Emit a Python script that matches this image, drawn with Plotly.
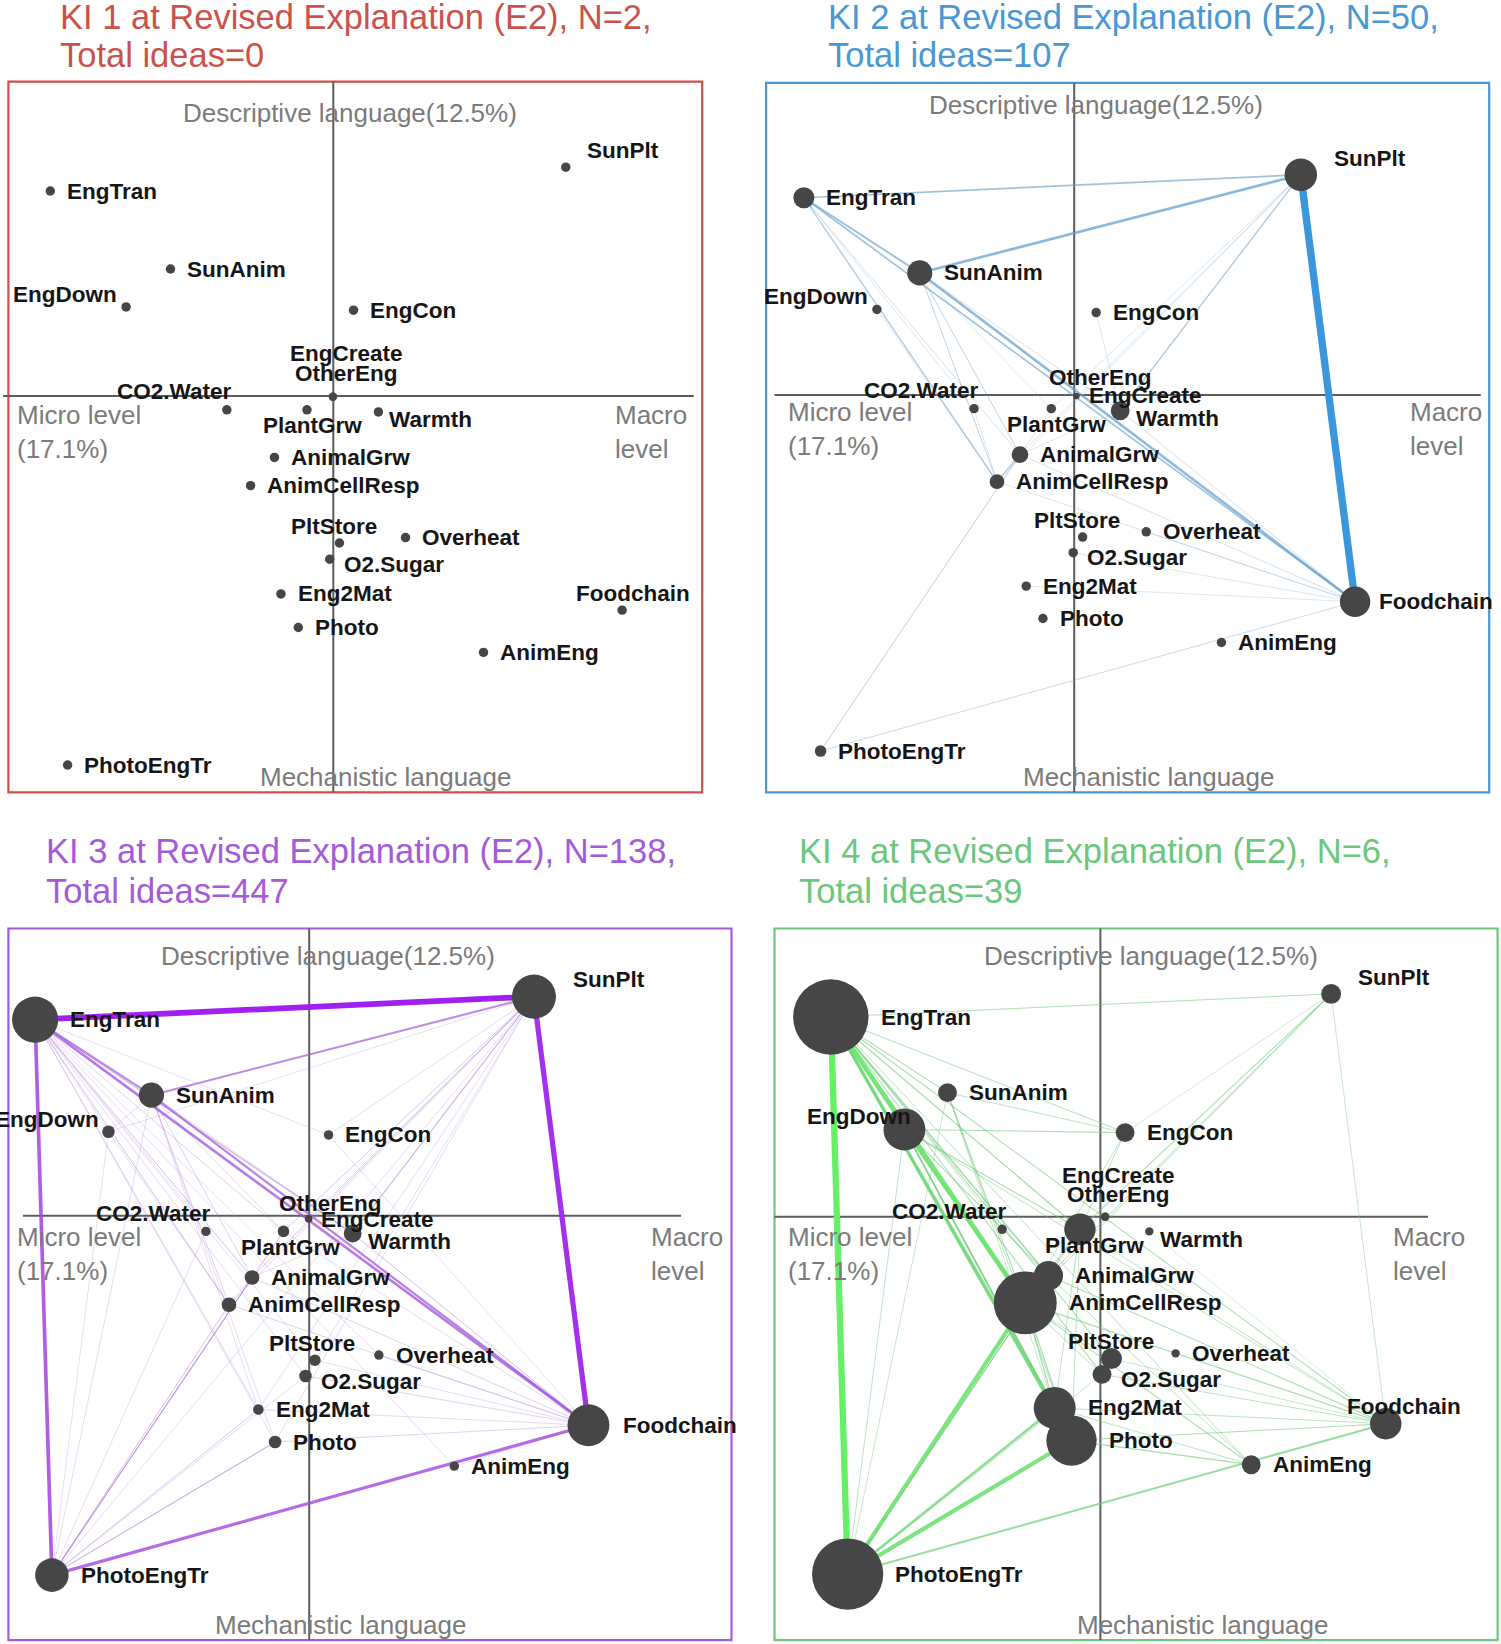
import plotly.graph_objects as go

FIG_W, FIG_H = 1501, 1644
K = 1.048  # reference-unit to output pixel factor

# ---------------- data ----------------
NODE_NAMES = ["SunPlt", "EngTran", "SunAnim", "EngDown", "EngCon", "EngCreate", "OtherEng",
              "CO2.Water", "PlantGrw", "Warmth", "AnimalGrw", "AnimCellResp", "PltStore",
              "Overheat", "O2.Sugar", "Eng2Mat", "Photo", "Foodchain", "AnimEng", "PhotoEngTr"]
NODE_X = [2.18, -2.58, -1.47, -1.88, 0.22, 0.03, 0.03, -0.95, -0.21, 0.45, -0.51, -0.73, 0.09,
          0.70, 0.00, -0.45, -0.29, 2.70, 1.42, -2.42]
NODE_Y = [2.12, 1.90, 1.18, 0.83, 0.80, 0.00, 0.00, -0.12, -0.12, -0.14, -0.56, -0.82, -1.35,
          -1.30, -1.50, -1.82, -2.13, -1.97, -2.36, -3.40]

TITLE_LINE1 = ["KI 1 at Revised Explanation (E2), N=2,", "KI 2 at Revised Explanation (E2), N=50,",
               "KI 3 at Revised Explanation (E2), N=138,", "KI 4 at Revised Explanation (E2), N=6,"]
TITLE_LINE2 = ["Total ideas=0", "Total ideas=107", "Total ideas=447", "Total ideas=39"]

LABEL_TOP = "Descriptive language(12.5%)"
LABEL_BOTTOM = "Mechanistic language"
LABEL_LEFT = "Micro level<br>(17.1%)"
LABEL_RIGHT = "Macro<br>level"

# node weights (relative idea frequency) per KI group
NODE_W_KI1 = {"EngCreate": -1, "OtherEng": -1}
NODE_W_KI2 = {"SunPlt": 22, "Foodchain": 20, "SunAnim": 15, "EngTran": 11, "Warmth": 9,
              "AnimalGrw": 7, "AnimCellResp": 5, "PhotoEngTr": 2, "EngCreate": -3, "OtherEng": -3}
NODE_W_KI3 = {"EngTran": 35, "SunPlt": 33, "Foodchain": 31, "PhotoEngTr": 23, "SunAnim": 15,
              "Warmth": 8, "AnimalGrw": 5, "AnimCellResp": 5, "Photo": 3, "O2.Sugar": 3,
              "PlantGrw": 2, "PltStore": 2, "EngDown": 3, "Eng2Mat": 1, "EngCreate": -2, "OtherEng": -2}
NODE_W_KI4 = {"EngTran": 63, "PhotoEngTr": 59, "AnimCellResp": 51, "Photo": 39, "Eng2Mat": 31,
              "EngDown": 31, "PlantGrw": 21, "AnimalGrw": 19, "Foodchain": 21, "PltStore": 11,
              "O2.Sugar": 9, "AnimEng": 9, "EngCon": 9, "SunAnim": 9, "SunPlt": 10,
              "Warmth": -1, "Overheat": -1, "EngCreate": -1, "OtherEng": -1}

# co-occurrence edges (source, target, weight)
EDGES_KI1 = []
EDGES_KI2 = [
    ("SunPlt", "Foodchain", 7.0), ("SunPlt", "SunAnim", 2.5), ("SunPlt", "EngTran", 1.6),
    ("EngTran", "SunAnim", 1.8), ("SunAnim", "Foodchain", 2.4), ("EngTran", "Foodchain", 1.6),
    ("SunPlt", "Warmth", 1.2), ("SunPlt", "AnimalGrw", 0.5), ("SunPlt", "PlantGrw", 0.4),
    ("SunPlt", "AnimCellResp", 0.4), ("EngTran", "AnimCellResp", 1.2), ("EngTran", "AnimalGrw", 0.6),
    ("EngTran", "CO2.Water", 0.4), ("SunAnim", "AnimalGrw", 0.8), ("SunAnim", "AnimCellResp", 0.8),
    ("SunAnim", "Warmth", 0.6), ("SunAnim", "PlantGrw", 0.4), ("AnimalGrw", "AnimCellResp", 1.2),
    ("AnimalGrw", "Foodchain", 0.6), ("AnimCellResp", "Foodchain", 0.5), ("Warmth", "Foodchain", 0.6),
    ("PhotoEngTr", "Foodchain", 0.7), ("PhotoEngTr", "AnimalGrw", 0.5), ("PhotoEngTr", "PlantGrw", 0.4),
    ("Foodchain", "O2.Sugar", 0.4), ("Foodchain", "Eng2Mat", 0.3), ("Foodchain", "Overheat", 0.3),
    ("EngDown", "AnimCellResp", 0.3), ("CO2.Water", "AnimCellResp", 0.4), ("Warmth", "AnimalGrw", 0.4),
    ("EngCon", "Warmth", 0.3),
]
EDGES_KI3 = [
    ("EngTran", "SunPlt", 5.5), ("SunPlt", "Foodchain", 5.0), ("EngTran", "PhotoEngTr", 3.5),
    ("PhotoEngTr", "Foodchain", 3.0), ("EngTran", "Foodchain", 2.5), ("SunAnim", "Foodchain", 2.2),
    ("SunAnim", "SunPlt", 2.0), ("EngTran", "SunAnim", 2.0), ("EngTran", "Warmth", 1.0),
    ("EngTran", "EngDown", 0.4), ("EngTran", "CO2.Water", 0.5), ("EngTran", "PlantGrw", 0.6),
    ("EngTran", "AnimalGrw", 0.8), ("EngTran", "AnimCellResp", 0.8), ("EngTran", "PltStore", 0.4),
    ("EngTran", "O2.Sugar", 0.5), ("EngTran", "Eng2Mat", 0.5), ("EngTran", "Photo", 0.5),
    ("EngTran", "AnimEng", 0.4), ("EngTran", "EngCon", 0.3), ("EngTran", "Overheat", 0.3),
    ("SunPlt", "Warmth", 1.0), ("SunPlt", "PlantGrw", 0.7), ("SunPlt", "AnimalGrw", 0.7),
    ("SunPlt", "AnimCellResp", 0.6), ("SunPlt", "EngCreate", 0.5), ("SunPlt", "EngCon", 0.4),
    ("SunPlt", "O2.Sugar", 0.4), ("SunPlt", "Photo", 0.4), ("SunPlt", "Eng2Mat", 0.3),
    ("PhotoEngTr", "SunAnim", 0.5), ("PhotoEngTr", "EngDown", 0.3), ("PhotoEngTr", "CO2.Water", 0.4),
    ("PhotoEngTr", "PlantGrw", 0.8), ("PhotoEngTr", "AnimalGrw", 1.0), ("PhotoEngTr", "AnimCellResp", 0.8),
    ("PhotoEngTr", "Photo", 1.0), ("PhotoEngTr", "Eng2Mat", 0.7), ("PhotoEngTr", "O2.Sugar", 0.5),
    ("PhotoEngTr", "SunPlt", 0.4),
    ("Foodchain", "Warmth", 0.8), ("Foodchain", "AnimalGrw", 0.6), ("Foodchain", "AnimCellResp", 0.6),
    ("Foodchain", "PlantGrw", 0.5), ("Foodchain", "PltStore", 0.4), ("Foodchain", "O2.Sugar", 0.6),
    ("Foodchain", "Eng2Mat", 0.5), ("Foodchain", "Photo", 0.6), ("Foodchain", "Overheat", 0.4),
    ("Foodchain", "AnimEng", 0.5), ("Foodchain", "EngCon", 0.3),
    ("SunAnim", "AnimalGrw", 0.6), ("SunAnim", "AnimCellResp", 0.6), ("SunAnim", "PlantGrw", 0.5),
    ("SunAnim", "Warmth", 0.6), ("SunAnim", "EngDown", 0.4), ("SunAnim", "Photo", 0.4),
    ("SunAnim", "Eng2Mat", 0.3), ("EngDown", "AnimCellResp", 0.3), ("EngDown", "SunPlt", 0.3),
    ("AnimalGrw", "AnimCellResp", 0.6), ("Warmth", "AnimalGrw", 0.4),
]
EDGES_KI4 = [
    ("EngTran", "PhotoEngTr", 6.0), ("EngTran", "AnimCellResp", 4.5), ("EngTran", "Eng2Mat", 3.0),
    ("EngTran", "Photo", 2.5), ("PhotoEngTr", "AnimCellResp", 4.0), ("PhotoEngTr", "Photo", 4.0),
    ("PhotoEngTr", "Eng2Mat", 2.5), ("PhotoEngTr", "Foodchain", 2.0), ("EngDown", "AnimCellResp", 2.5),
    ("EngDown", "Eng2Mat", 1.5), ("EngDown", "Photo", 1.5), ("EngTran", "AnimalGrw", 1.5),
    ("EngTran", "PlantGrw", 1.2), ("EngTran", "EngDown", 1.0), ("EngTran", "SunAnim", 1.0),
    ("EngTran", "EngCon", 0.9), ("EngTran", "SunPlt", 0.9), ("EngTran", "PltStore", 1.0),
    ("EngTran", "O2.Sugar", 1.0), ("EngTran", "Foodchain", 1.0), ("EngTran", "AnimEng", 0.8),
    ("EngTran", "CO2.Water", 0.7), ("PhotoEngTr", "PlantGrw", 1.0), ("PhotoEngTr", "AnimalGrw", 1.0),
    ("PhotoEngTr", "EngDown", 0.8), ("PhotoEngTr", "SunAnim", 0.7), ("PhotoEngTr", "O2.Sugar", 0.7),
    ("SunPlt", "PlantGrw", 1.0), ("SunPlt", "AnimalGrw", 0.9), ("SunPlt", "AnimCellResp", 0.9),
    ("SunPlt", "Foodchain", 0.7), ("SunPlt", "EngCon", 0.6), ("EngDown", "EngCon", 1.0),
    ("SunAnim", "EngCon", 0.8), ("SunAnim", "AnimCellResp", 1.0), ("SunAnim", "Photo", 0.8),
    ("SunAnim", "Eng2Mat", 0.7), ("EngDown", "PlantGrw", 1.0), ("EngDown", "AnimalGrw", 1.0),
    ("EngDown", "Foodchain", 0.8), ("AnimCellResp", "Foodchain", 1.2), ("AnimCellResp", "AnimEng", 1.0),
    ("AnimCellResp", "PltStore", 0.8), ("AnimCellResp", "O2.Sugar", 0.8), ("AnimCellResp", "Photo", 1.2),
    ("AnimCellResp", "Eng2Mat", 1.2), ("AnimCellResp", "PlantGrw", 1.0), ("AnimCellResp", "AnimalGrw", 1.0),
    ("PlantGrw", "Foodchain", 0.8), ("AnimalGrw", "Foodchain", 1.0), ("Photo", "Foodchain", 1.0),
    ("Eng2Mat", "Foodchain", 0.8), ("O2.Sugar", "Foodchain", 0.8), ("Photo", "AnimEng", 1.2),
    ("Eng2Mat", "AnimEng", 0.8), ("PlantGrw", "Photo", 0.8), ("PlantGrw", "Eng2Mat", 0.8),
    ("EngCon", "PlantGrw", 0.8), ("EngCon", "AnimCellResp", 0.8), ("AnimalGrw", "AnimEng", 0.8),
    ("PltStore", "Foodchain", 0.7), ("Warmth", "Foodchain", 0.5),
]

# ---------------- layout / style config ----------------
PANELS = [
    dict(color="#c9524b", weak="#c9524b", strong="#c9524b", weights=NODE_W_KI1, edges=EDGES_KI1,
         quad=(0, 0, 745, 880), origin=(329.7, 396.8), scale=108.3,
         box=(8.4, 81.7, 702.2, 792.3), cross=(333.3, 396.1), hline=(3.1, 693.8),
         title=(57.6, 16.8, 55.0), top=(350, 113), bottom=(386, 776.6), left=(14.7, 432), right=(613, 432),
         labels={}),
    dict(color="#4a97d2", weak="#7aa3c2", strong="#3a97dc", weights=NODE_W_KI2, edges=EDGES_KI2,
         quad=(745, 0, 1501, 880), origin=(1073.2, 396.1), scale=104.4,
         box=(766.1, 82.8, 1489.2, 792.3), cross=(1074.2, 395.1), hline=(774.5, 1480.8),
         title=(825.8, 16.8, 55.0), top=(1096, 105), bottom=(1149, 776.6), left=(786, 429), right=(1407.5, 429),
         labels={"Foodchain": ("r", 6.5, 0), "EngCreate": ("r", 7, -1), "OtherEng": ("c", 23, -18)}),
    dict(color="#a35bd9", weak="#a888cc", strong="#a020f0", weights=NODE_W_KI3, edges=EDGES_KI3,
         quad=(0, 880, 752, 1644), origin=(305.5, 1218.8), scale=104.8,
         box=(8.4, 928.5, 731.5, 1640.1), cross=(309.2, 1215.7), hline=(23.0, 681.0),
         title=(44.0, 850.5, 891.0), top=(328, 956), bottom=(341, 1625), left=(14.7, 1254), right=(648.7, 1254),
         labels={"Foodchain": ("r", 11, 0), "EngCreate": ("r", 6, 1), "OtherEng": ("c", 21, -15),
                 "PltStore": ("c", -3, -16), "PlantGrw": ("c", 7, 15)}),
    dict(color="#6cc77d", weak="#72bd82", strong="#66f066", weights=NODE_W_KI4, edges=EDGES_KI4,
         quad=(752, 880, 1501, 1644), origin=(1102.0, 1216.7), scale=105.1,
         box=(774.5, 928.5, 1497.6, 1640.1), cross=(1100.4, 1216.7), hline=(774.5, 1428.0),
         title=(796.5, 850.5, 891.0), top=(1151, 956), bottom=(1203, 1625), left=(786, 1254), right=(1390.7, 1254),
         labels={"EngDown": ("l", 8, -12), "PlantGrw": ("c", 14, 15), "Foodchain": ("c", 17, -16),
                 "EngCreate": ("c", 13, -39), "OtherEng": ("c", 13, -21), "PltStore": ("c", 0, -16)}),
]

DEFAULT_LABEL = ("r", 9.5, 0)
LABEL_SPEC = {
    "SunPlt": ("r", 14, -16), "EngDown": ("l", -7, -12), "CO2.Water": ("l", 6, -17),
    "PlantGrw": ("c", 5, 15), "Warmth": ("r", 4, 7.5), "O2.Sugar": ("r", 7, 5),
    "PltStore": ("c", -5, -16), "Foodchain": ("c", 10, -16),
    "EngCreate": ("c", 12.5, -41), "OtherEng": ("c", 13, -22),
}

FONT = "Liberation Sans, Arial, sans-serif"
GRAY = "#7b7b7b"
NODE_COLOR = "#464646"
AXIS_LINE = "#5c5c5c"


def hex_rgb(h):
    h = h.lstrip("#")
    return tuple(int(h[i:i + 2], 16) for i in (0, 2, 4))


def mix(c1, c2, t):
    a, b = hex_rgb(c1), hex_rgb(c2)
    return tuple(round(a[i] + (b[i] - a[i]) * t) for i in range(3))


fig = go.Figure()
annotations = []
shapes = []
idx = {n: i for i, n in enumerate(NODE_NAMES)}

for p, P in enumerate(PANELS):
    n = p + 1
    sfx = "" if n == 1 else str(n)
    xa, ya = "x" + sfx, "y" + sfx
    ox, oy = P["origin"]
    s = P["scale"]
    qx0, qy0, qx1, qy1 = P["quad"]

    def dx(px):
        return (px - ox) / s

    def dy(py):
        return (oy - py) / s

    fig.layout["xaxis" + sfx] = dict(domain=[qx0 / FIG_W, qx1 / FIG_W], range=[dx(qx0), dx(qx1)],
                                     visible=False, fixedrange=True, anchor=ya)
    fig.layout["yaxis" + sfx] = dict(domain=[1 - qy1 / FIG_H, 1 - qy0 / FIG_H], range=[dy(qy1), dy(qy0)],
                                     visible=False, fixedrange=True, anchor=xa)

    bx0, by0, bx1, by1 = P["box"]
    shapes.append(dict(type="rect", xref=xa, yref=ya, x0=dx(bx0), x1=dx(bx1), y0=dy(by1), y1=dy(by0),
                       line=dict(color=P["color"], width=2.2), layer="below"))

    # cross-hair reference lines
    cx, cy = dx(P["cross"][0]), dy(P["cross"][1])
    fig.add_trace(go.Scatter(x=[cx, cx], y=[dy(by0), dy(by1)], mode="lines", xaxis=xa, yaxis=ya,
                             line=dict(color=AXIS_LINE, width=2), hoverinfo="skip", showlegend=False))
    fig.add_trace(go.Scatter(x=[dx(P["hline"][0]), dx(P["hline"][1])], y=[cy, cy], mode="lines",
                             xaxis=xa, yaxis=ya, line=dict(color=AXIS_LINE, width=2),
                             hoverinfo="skip", showlegend=False))

    # edges
    edges = sorted(P["edges"], key=lambda e: e[2])
    wmax = max([e[2] for e in edges], default=1)
    for a, b, w in edges:
        t = w / wmax
        r, g, bb = mix(P["weak"], P["strong"], t ** 0.9)
        alpha = 0.32 + 0.68 * t ** 0.5
        fig.add_trace(go.Scatter(x=[NODE_X[idx[a]], NODE_X[idx[b]]], y=[NODE_Y[idx[a]], NODE_Y[idx[b]]],
                                 mode="lines", xaxis=xa, yaxis=ya,
                                 line=dict(color=f"rgba({r},{g},{bb},{alpha:.3f})", width=max(w * K, 0.55)),
                                 hoverinfo="skip", showlegend=False))

    # nodes
    diam = [(9 + P["weights"].get(nm, 0)) * K for nm in NODE_NAMES]
    fig.add_trace(go.Scatter(x=NODE_X, y=NODE_Y, mode="markers", xaxis=xa, yaxis=ya, cliponaxis=False,
                             marker=dict(size=diam, color=NODE_COLOR, opacity=1, line=dict(width=0)),
                             text=NODE_NAMES, hoverinfo="text", showlegend=False))

    # node labels
    for i, nm in enumerate(NODE_NAMES):
        mode, ddx, ddy = P["labels"].get(nm, LABEL_SPEC.get(nm, DEFAULT_LABEL))
        if mode == "r":
            xs, xanc = diam[i] / 2 + ddx * K, "left"
        elif mode == "c":
            xs, xanc = ddx * K, "center"
        else:
            xs, xanc = ddx * K, "right"
        annotations.append(dict(x=NODE_X[i], y=NODE_Y[i], xref=xa, yref=ya, text=nm, showarrow=False,
                                xanchor=xanc, yanchor="middle", xshift=xs, yshift=-ddy * K,
                                font=dict(family=FONT, size=22.5, color="#161616", weight=700)))

    # titles
    tx, ty1, ty2 = P["title"]
    for txt, ty in ((TITLE_LINE1[p], ty1), (TITLE_LINE2[p], ty2)):
        annotations.append(dict(x=tx / FIG_W, y=1 - ty / FIG_H, xref="paper", yref="paper", text=txt,
                                showarrow=False, xanchor="left", yanchor="middle",
                                font=dict(family=FONT, size=34.5, color=P["color"])))

    # dimension labels
    for key, txt, xanc in (("top", LABEL_TOP, "center"), ("bottom", LABEL_BOTTOM, "center"),
                           ("left", LABEL_LEFT, "left"), ("right", LABEL_RIGHT, "left")):
        lx, ly = P[key]
        annotations.append(dict(x=lx / FIG_W, y=1 - ly / FIG_H, xref="paper", yref="paper", text=txt,
                                showarrow=False, xanchor=xanc, yanchor="middle", align="left",
                                font=dict(family=FONT, size=26, color=GRAY)))

fig.update_layout(width=FIG_W, height=FIG_H, autosize=False, margin=dict(l=0, r=0, t=0, b=0, pad=0),
                  paper_bgcolor="white", plot_bgcolor="white", showlegend=False,
                  annotations=annotations, shapes=shapes)

fig.write_html("out.html", config={"displayModeBar": False},
               post_script="document.body.style.margin='0';")
